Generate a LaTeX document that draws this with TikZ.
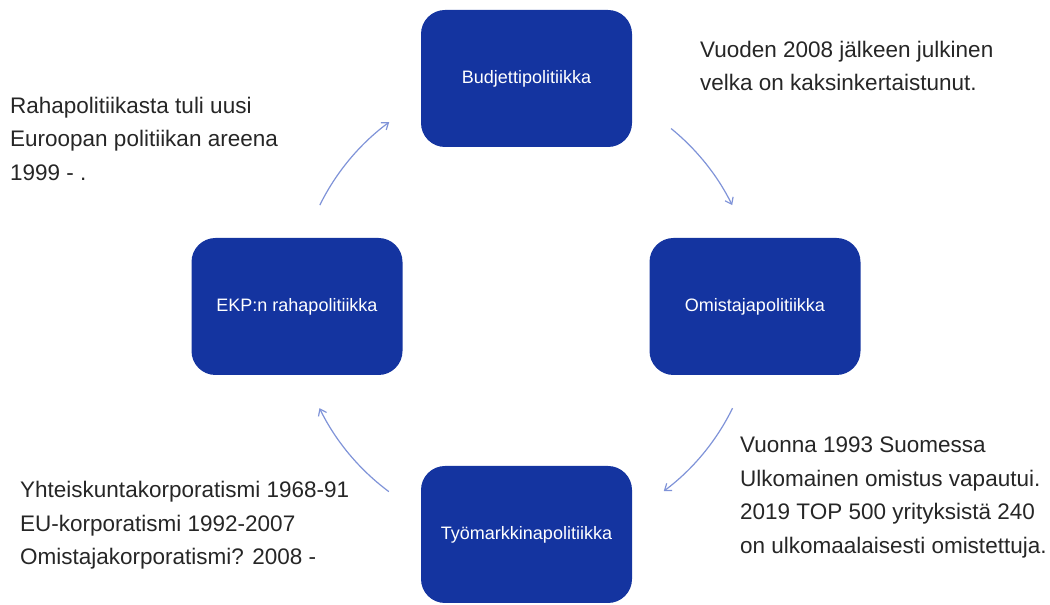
\documentclass[tikz,border=0pt]{standalone}
\usepackage{fontspec}
\setmainfont{Liberation Sans}
\usetikzlibrary{arrows.meta}
\definecolor{boxblue}{HTML}{1434A0}
\definecolor{arrowblue}{HTML}{7F93D8}
\definecolor{txtgray}{HTML}{262626}
\tikzset{
  policybox/.style={draw=none, fill=boxblue, rounded corners=24pt, minimum width=211pt, minimum height=137pt, text=white, font=\fontsize{18}{20}\selectfont, inner sep=0pt},
  note/.style={anchor=north west, align=left, inner sep=0pt, text=txtgray, font=\fontsize{22.5}{33.5}\selectfont},
  cyclearrow/.style={draw=arrowblue, line width=1.2pt, -{Straight Barb[length=6pt,width=9pt]}}
}
\begin{document}
\begin{tikzpicture}[x=1pt,y=1pt]
\useasboundingbox (0,0) rectangle (1050,605);
\coordinate (ctr) at (526,298);
\node[policybox] (budjetti) at (526.5,526.5) {Budjettipolitiikka};
\node[policybox] (ekp) at (297,298.5) {EKP:n rahapolitiikka};
\node[policybox] (omistaja) at (755,298.5) {Omistajapolitiikka};
\node[policybox] (tyo) at (526.5,70.5) {Työmarkkinapolitiikka};
\draw[cyclearrow] (ctr) ++(153.7:230) arc (153.7:126.5:230);
\draw[cyclearrow] (ctr) ++(50.9:230) arc (50.9:26.3:230);
\draw[cyclearrow] (ctr) ++(-26.1:230) arc (-26.1:-53.2:230);
\draw[cyclearrow] (ctr) ++(-126.6:230) arc (-126.6:-153.9:230);
\node[note] (tr) at (700,564) {Vuoden 2008 jälkeen julkinen\\velka on kaksinkertaistunut.};
\node[note] (tl) at (10,508) {Rahapolitiikasta tuli uusi\\Euroopan politiikan areena\\1999 - .};
\node[note] (br) at (740,168) {Vuonna 1993 Suomessa\\Ulkomainen omistus vapautui.\\2019 TOP 500 yrityksistä 240\\on ulkomaalaisesti omistettuja.};
\node[note] (bl) at (20,124) {Yhteiskuntakorporatismi 1968-91\\EU-korporatismi 1992-2007\\Omistajakorporatismi? 2008 -};
\end{tikzpicture}
\end{document}
